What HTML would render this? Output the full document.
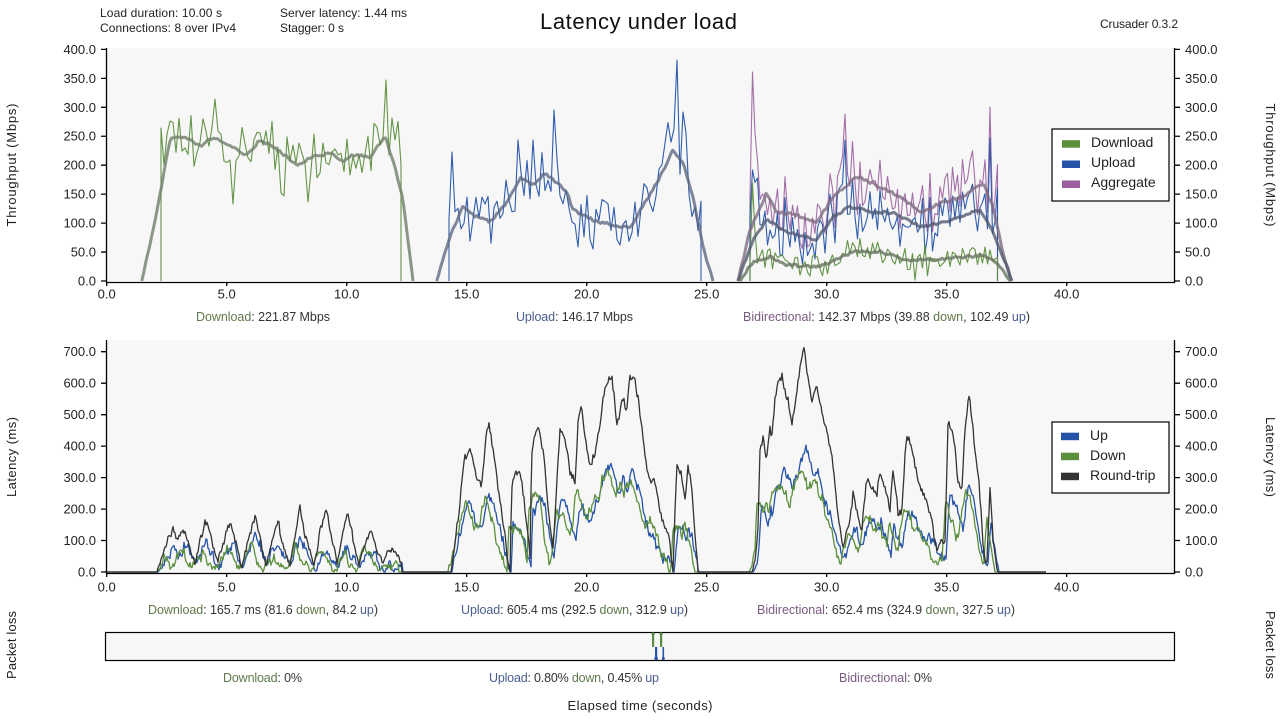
<!DOCTYPE html>
<html><head><meta charset="utf-8">
<style>
html,body{margin:0;padding:0;background:#fff;}
svg{display:block;font-family:"Liberation Sans",sans-serif;}
</style></head><body>
<svg id="c" width="1280" height="720" viewBox="0 0 1280 720" xmlns="http://www.w3.org/2000/svg">
<defs>
<clipPath id="ct"><rect x="106" y="48" width="1069" height="234"/></clipPath>
<clipPath id="cb"><rect x="106" y="340" width="1069" height="234"/></clipPath>
</defs>
<rect width="1280" height="720" fill="#fff"/>

<!-- header -->
<g font-size="12" fill="#222">
<text x="100" y="17" textLength="122" lengthAdjust="spacing">Load duration: 10.00 s</text>
<text x="100" y="32" textLength="136" lengthAdjust="spacing">Connections: 8 over IPv4</text>
<text x="280" y="17" textLength="127" lengthAdjust="spacing">Server latency: 1.44 ms</text>
<text x="280" y="32" textLength="64" lengthAdjust="spacing">Stagger: 0 s</text>
<text x="1100" y="28" textLength="78" lengthAdjust="spacing">Crusader 0.3.2</text>
</g>
<text x="540" y="29" font-size="22" fill="#111" textLength="197" lengthAdjust="spacing">Latency under load</text>

<!-- plot backgrounds -->
<rect x="106" y="48" width="1069" height="233" fill="#f7f7f7"/>
<rect x="106" y="340" width="1069" height="233" fill="#f7f7f7"/>
<rect x="105.5" y="632.5" width="1069" height="28" fill="#f7f7f7" stroke="#000" stroke-width="1.2"/>

<g id="tp" clip-path="url(#ct)"></g>
<g id="lat" clip-path="url(#cb)"></g>

<!-- top axes -->
<g stroke="#000" stroke-width="1.3" fill="none">
<path d="M106.5 48V282.5H1174.5V48"/>
<path d="M101 281H106M101 252.05H106M101 223.1H106M101 194.15H106M101 165.2H106M101 136.25H106M101 107.3H106M101 78.35H106M101 49.4H106"/>
<path d="M1175 281H1180M1175 252.05H1180M1175 223.1H1180M1175 194.15H1180M1175 165.2H1180M1175 136.25H1180M1175 107.3H1180M1175 78.35H1180M1175 49.4H1180"/>
<path d="M106.7 282V286M226.7 282V286M346.7 282V286M466.7 282V286M586.7 282V286M706.7 282V286M826.7 282V286M946.7 282V286M1066.7 282V286"/>
</g>
<g font-size="13" fill="#222" text-anchor="end">
<text x="96" y="285.5">0.0</text><text x="96" y="256.5">50.0</text><text x="96" y="227.6">100.0</text><text x="96" y="198.6">150.0</text><text x="96" y="169.7">200.0</text><text x="96" y="140.7">250.0</text><text x="96" y="111.8">300.0</text><text x="96" y="82.8">350.0</text><text x="96" y="53.9">400.0</text>
</g>
<g font-size="13" fill="#222">
<text x="1185" y="285.5">0.0</text><text x="1185" y="256.5">50.0</text><text x="1185" y="227.6">100.0</text><text x="1185" y="198.6">150.0</text><text x="1185" y="169.7">200.0</text><text x="1185" y="140.7">250.0</text><text x="1185" y="111.8">300.0</text><text x="1185" y="82.8">350.0</text><text x="1185" y="53.9">400.0</text>
</g>
<g font-size="13" fill="#222" text-anchor="middle">
<text x="106.7" y="298.5">0.0</text><text x="226.7" y="298.5">5.0</text><text x="346.7" y="298.5">10.0</text><text x="466.7" y="298.5">15.0</text><text x="586.7" y="298.5">20.0</text><text x="706.7" y="298.5">25.0</text><text x="826.7" y="298.5">30.0</text><text x="946.7" y="298.5">35.0</text><text x="1066.7" y="298.5">40.0</text>
</g>

<!-- bottom axes -->
<g stroke="#000" stroke-width="1.3" fill="none">
<path d="M106.5 340V573.5H1174.5V340"/>
<path d="M101 572H106M101 540.5H106M101 509.1H106M101 477.6H106M101 446.1H106M101 414.7H106M101 383.2H106M101 351.7H106"/>
<path d="M1175 572H1180M1175 540.5H1180M1175 509.1H1180M1175 477.6H1180M1175 446.1H1180M1175 414.7H1180M1175 383.2H1180M1175 351.7H1180"/>
<path d="M106.7 573V577M226.7 573V577M346.7 573V577M466.7 573V577M586.7 573V577M706.7 573V577M826.7 573V577M946.7 573V577M1066.7 573V577"/>
</g>
<g font-size="13" fill="#222" text-anchor="end">
<text x="96" y="576.5">0.0</text><text x="96" y="545">100.0</text><text x="96" y="513.6">200.0</text><text x="96" y="482.1">300.0</text><text x="96" y="450.6">400.0</text><text x="96" y="419.2">500.0</text><text x="96" y="387.7">600.0</text><text x="96" y="356.2">700.0</text>
</g>
<g font-size="13" fill="#222">
<text x="1185" y="576.5">0.0</text><text x="1185" y="545">100.0</text><text x="1185" y="513.6">200.0</text><text x="1185" y="482.1">300.0</text><text x="1185" y="450.6">400.0</text><text x="1185" y="419.2">500.0</text><text x="1185" y="387.7">600.0</text><text x="1185" y="356.2">700.0</text>
</g>
<g font-size="13" fill="#222" text-anchor="middle">
<text x="106.7" y="591.5">0.0</text><text x="226.7" y="591.5">5.0</text><text x="346.7" y="591.5">10.0</text><text x="466.7" y="591.5">15.0</text><text x="586.7" y="591.5">20.0</text><text x="706.7" y="591.5">25.0</text><text x="826.7" y="591.5">30.0</text><text x="946.7" y="591.5">35.0</text><text x="1066.7" y="591.5">40.0</text>
</g>

<!-- axis titles -->
<g font-size="13" fill="#222" text-anchor="middle">
<text transform="translate(16,165) rotate(-90)" textLength="123" lengthAdjust="spacing">Throughput (Mbps)</text>
<text transform="translate(1266,165) rotate(90)" textLength="123" lengthAdjust="spacing">Throughput (Mbps)</text>
<text transform="translate(16,457) rotate(-90)" textLength="80" lengthAdjust="spacing">Latency (ms)</text>
<text transform="translate(1266,457) rotate(90)" textLength="80" lengthAdjust="spacing">Latency (ms)</text>
<text transform="translate(16,645) rotate(-90)" textLength="68" lengthAdjust="spacing">Packet loss</text>
<text transform="translate(1266,645) rotate(90)" textLength="68" lengthAdjust="spacing">Packet loss</text>
<text x="640" y="710" textLength="145" lengthAdjust="spacing">Elapsed time (seconds)</text>
</g>

<!-- summaries -->
<g font-size="12.5" fill="#333" text-anchor="middle">
<text x="263" y="321" textLength="134" lengthAdjust="spacing"><tspan fill="#5f7a4c">Download</tspan>: 221.87 Mbps</text>
<text x="574.5" y="321" textLength="117" lengthAdjust="spacing"><tspan fill="#4a5d8f">Upload</tspan>: 146.17 Mbps</text>
<text x="886.5" y="321" textLength="287" lengthAdjust="spacing"><tspan fill="#7a5b80">Bidirectional</tspan>: 142.37 Mbps (39.88 <tspan fill="#5f7a4c">down</tspan>, 102.49 <tspan fill="#4a5d8f">up</tspan>)</text>
<text x="263" y="614" textLength="230" lengthAdjust="spacing"><tspan fill="#5f7a4c">Download</tspan>: 165.7 ms (81.6 <tspan fill="#5f7a4c">down</tspan>, 84.2 <tspan fill="#4a5d8f">up</tspan>)</text>
<text x="574.5" y="614" textLength="227" lengthAdjust="spacing"><tspan fill="#4a5d8f">Upload</tspan>: 605.4 ms (292.5 <tspan fill="#5f7a4c">down</tspan>, 312.9 <tspan fill="#4a5d8f">up</tspan>)</text>
<text x="886" y="614" textLength="258" lengthAdjust="spacing"><tspan fill="#7a5b80">Bidirectional</tspan>: 652.4 ms (324.9 <tspan fill="#5f7a4c">down</tspan>, 327.5 <tspan fill="#4a5d8f">up</tspan>)</text>
<text x="262.5" y="682" textLength="79" lengthAdjust="spacing"><tspan fill="#5f7a4c">Download</tspan>: 0%</text>
<text x="574" y="682" textLength="170" lengthAdjust="spacing"><tspan fill="#4a5d8f">Upload</tspan>: 0.80% <tspan fill="#5f7a4c">down</tspan>, 0.45% <tspan fill="#4a5d8f">up</tspan></text>
<text x="885.5" y="682" textLength="93" lengthAdjust="spacing"><tspan fill="#7a5b80">Bidirectional</tspan>: 0%</text>
</g>

<!-- packet loss markers -->
<g>
<rect x="652" y="633" width="2.2" height="14" fill="#5b8f3c"/>
<rect x="660" y="633" width="2.2" height="14" fill="#5b8f3c"/>
<circle cx="653.1" cy="634" r="1.6" fill="#5b8f3c"/>
<circle cx="661.1" cy="634" r="1.6" fill="#5b8f3c"/>
<rect x="655" y="647" width="2.2" height="13" fill="#2553a8"/>
<rect x="662.5" y="647" width="1.6" height="13" fill="#2553a8"/>
<circle cx="656.1" cy="658.5" r="1.8" fill="#2553a8"/>
<circle cx="663.3" cy="658.5" r="1.5" fill="#2553a8"/>
</g>

<!-- legends -->
<rect x="1052" y="129" width="117" height="72" fill="#fff" stroke="#000" stroke-width="1.2"/>
<rect x="1062" y="140.2" width="18" height="7.5" fill="#5b8f3c"/>
<rect x="1062" y="160.5" width="18" height="7.5" fill="#2553a8"/>
<rect x="1062" y="180.5" width="18" height="7.5" fill="#9a5f9e"/>
<g font-size="14" fill="#222">
<text x="1091" y="147">Download</text>
<text x="1091" y="167">Upload</text>
<text x="1091" y="187">Aggregate</text>
</g>
<rect x="1052" y="422" width="117" height="71" fill="#fff" stroke="#000" stroke-width="1.2"/>
<rect x="1061" y="432.7" width="18" height="7.5" fill="#2553a8"/>
<rect x="1061" y="452.7" width="18" height="7.5" fill="#5b8f3c"/>
<rect x="1061" y="472.7" width="18" height="7.5" fill="#333"/>
<g font-size="14" fill="#222">
<text x="1090" y="440">Up</text>
<text x="1090" y="460">Down</text>
<text x="1090" y="480">Round-trip</text>
</g>
</svg>
<script>
(function(){
var NS='http://www.w3.org/2000/svg';
var s=12345;function R(){s=(s*16807)%2147483647;return s/2147483647;}
function N(){return R()*2-1;}
function L(p,x){if(x<=p[0][0])return p[0][1];for(var i=1;i<p.length;i++){if(x<=p[i][0]){var a=p[i-1],b=p[i];return a[1]+(b[1]-a[1])*(x-a[0])/(b[0]-a[0]);}}return p[p.length-1][1];}
function D(a){var o='M'+a[0][0].toFixed(1)+','+a[0][1].toFixed(1);for(var i=1;i<a.length;i++)o+='L'+a[i][0].toFixed(1)+','+a[i][1].toFixed(1);return o;}
function add(g,a,c,w,op){var e=document.createElementNS(NS,'path');e.setAttribute('d',D(a));e.setAttribute('fill','none');e.setAttribute('stroke',c);e.setAttribute('stroke-width',w);e.setAttribute('stroke-linejoin','round');if(op)e.setAttribute('stroke-opacity',op);g.appendChild(e);}
var T=document.getElementById('tp'),B=document.getElementById('lat');
var Z=281;
function smooth(k){var a=[],x0=k[0][0],x1=k[k.length-1][0];for(var x=x0;x<x1;x+=2){var y=L(k,x);if(y<Z-3)y+=N()*1.3;a.push([x,y]);}a.push([x1,Z]);return a;}
function rawv(base,x0,x1,amp,step,forced){var a=[];for(var x=x0;x<=x1+0.001;x+=step){var h=Z-L(base,x)+N()*amp;if(R()<0.1)h-=amp*R();if(R()<0.07)h+=amp*0.9*R();for(var j=0;j<forced.length;j++){if(forced[j][0]>=x&&forced[j][0]<x+step)h=Z-forced[j][1];}if(h<0)h=0;a.push([x,h]);}return a;}
function toPts(v){var a=[[v[0][0],Z]];v.forEach(function(q){a.push([q[0],Z-q[1]]);});a.push([v[v.length-1][0],Z]);return a;}

/* ---- download ---- */
var dlS=[[141.7,281],[156.7,213],[170,140],[176.7,136.7],[186.7,137.7],[200,146.7],[210,139],[220,140],[233,148],[246.7,155],[260,140],[273,146.7],[286.7,156.7],[296.7,165],[313,156.7],[330,153],[343,161.7],[353,155],[370,156.7],[385,137],[393,160],[403,200],[413,281]];
var dlB=[[161,140],[176,137],[187,138],[200,147],[210,139],[220,140],[233,148],[247,155],[260,140],[273,147],[287,157],[297,165],[313,157],[330,153],[343,162],[353,155],[370,157],[385,137],[401,140]];
var dlF=[[163,128],[170,121],[216.7,99],[235,204],[281.7,193],[310,202],[388,80],[392,118],[397,140]];
var dl=rawv(dlB,161,401,26,3,dlF);
add(T,toPts(dl),'#5b8f3c',1.1,0.95);
add(T,smooth(dlS),'#6f7d6a',3,0.8);

/* ---- upload ---- */
var ulS=[[436.7,281],[450,236.7],[463,206.7],[473,215],[490,221.7],[506.7,203],[520,178],[533,185],[545,173],[566.7,191.7],[573,210],[596.7,221.7],[613,225],[630,228],[646.7,200],[660,176.7],[673,150],[683,163],[693,196.7],[703,246.7],[713,281]];
var ulB=[[449,195],[463,205],[473,215],[490,222],[507,203],[520,178],[533,185],[545,173],[567,192],[573,210],[597,222],[613,225],[630,228],[647,200],[660,177],[673,150],[683,163],[693,205],[701,215]];
var ulF=[[453,152],[472,241],[518,140],[533,140],[555,110],[593,249],[622,245],[678,60],[683,112],[688,133]];
var ul=rawv(ulB,449,701,26,3,ulF);
add(T,toPts(ul),'#2553a8',1.1,0.95);
add(T,smooth(ulS),'#5d6680',3,0.78);

/* ---- bidirectional ---- */
var agS=[[738,281],[750,230],[766.7,193],[776.7,211.7],[796.7,215],[816.7,223],[833,196.7],[856.7,176.7],[880,186.7],[900,196.7],[923,213],[940,203],[963,196.7],[983,183],[993,206.7],[1003,253],[1011.7,281]];
var buS=[[738,281],[753,240],[766.7,220],[786.7,231.7],[816.7,240],[833,216.7],[850,206.7],[870,211.7],[893,213],[920,226.7],[946.7,221.7],[980,210],[993,231.7],[1006.7,266.7],[1011.7,281]];
var bdS=[[740,281],[753,261.7],[770,256.7],[786.7,265],[820,266.7],[853,251.7],[880,251.7],[906.7,260],[953,258],[983,255],[996.7,263],[1010,281]];
var buB=[[750,218],[767,220],[787,232],[817,240],[833,217],[850,207],[870,212],[893,213],[920,227],[947,222],[980,210],[993,215],[998,215]];
var bdB=[[750,262],[770,257],[787,265],[820,267],[853,252],[880,252],[907,260],[953,258],[983,255],[998,258]];
var buF=[[753,170],[758,178],[847,140],[990,138]];
var bdF=[[753,183],[757,232],[847,255],[990,250]];
var bu=rawv(buB,750,998,28,2.5,buF);
var bd=rawv(bdB,750,998,11,2.5,bdF);
var ag=bu.map(function(q,i){return [q[0],q[1]+bd[i][1]];});
add(T,toPts(ag),'#9a5f9e',1.1,0.9);
add(T,toPts(bu),'#2553a8',1.1,0.95);
add(T,toPts(bd),'#5b8f3c',1.1,0.95);
add(T,smooth(agS),'#7d6a80',3,0.78);
add(T,smooth(buS),'#4f5870',3,0.78);
add(T,smooth(bdS),'#66735f',3,0.8);

/* ---- latency ---- */
var rk=[[106,572],[150,572],[158,569],[165,548],[172,532],[178,538],[183,522],[189,542],[195,562],[200,542],[205,525],[211,538],[218,563],[224,540],[230,518],[236,542],[242,566],[248,538],[255,518],[261,542],[266,568],[272,538],[278,522],[284,548],[290,566],[295,533],[300,510],[307,538],[314,563],[320,532],[326,518],[332,542],[337,564],[343,530],[348,516],[354,545],[359,568],[365,542],[370,530],[377,552],[383,566],[388,550],[393,546],[398,552],[401,560],[402,572],
[451,572],[455,540],[460,497],[465,453],[470,445],[476.7,483],[481.7,483],[485,450],[488.3,425],[493,447],[500,500],[505,533],[508,563],[510,570],[511.7,480],[516.7,473],[521.7,487],[526.7,533],[530,560],[531.7,457],[538,428],[543,443],[548,507],[553,550],[556.7,480],[560,433],[565,433],[570,473],[575,490],[578,423],[581.7,413],[585,447],[590,467],[595,447],[600,420],[605,373],[611.7,370],[616.7,417],[623,400],[626.7,413],[630,377],[635,380],[640,413],[646.7,467],[650,480],[653,477],[656.7,493],[660,513],[663,527],[668,530],[673,570],[676.7,467],[681.7,480],[685,497],[688,467],[691.7,490],[698,570],[700,572],
[751.7,572],[755,560],[758,527],[760,447],[763,433],[766.7,457],[770,427],[771.7,443],[775,407],[778,393],[781.7,380],[785,393],[788,403],[791.7,423],[795,400],[800,367],[804,353],[808,377],[811.7,403],[816.7,383],[821.7,413],[826.7,433],[833,473],[838,520],[843,553],[848,530],[853,493],[858,513],[861.7,527],[866.7,473],[873,480],[876.7,490],[880,470],[885,487],[890,517],[893,467],[898,510],[901.7,513],[906.7,430],[910,440],[915,470],[920,490],[926.7,510],[931.7,527],[936.7,553],[941.7,543],[945,547],[948.3,420],[953,433],[958,477],[961.7,493],[965,430],[969,397],[973,427],[978,473],[983,540],[986.7,567],[990,487],[993,533],[996.7,567],[998,572],[1046,572]];
var Y0=572;
function lat(lag,ratio,amp,walk,step){var a=[],w=0;for(var x=106;x<=1046;x+=step){var b=L(rk,x+lag);var h=Y0-b;if(h<3||x>1000&&x+lag>999){a.push([x,Y0]);continue;}w=w*0.9+N()*walk;var k=Math.min(1,h/60+0.35);var y=Y0-h*ratio+w*k+N()*amp*k;if(y>Y0)y=Y0;if(y<342)y=342;a.push([x,y]);}return a;}
add(B,lat(-1,0.5,3.6,4.5,1),'#2553a8',1.3);
add(B,lat(3,0.48,3.6,4.5,1),'#5b8f3c',1.3);
add(B,lat(0,1,3.2,3,1),'#333',1.3);
})();
</script>
</body></html>
